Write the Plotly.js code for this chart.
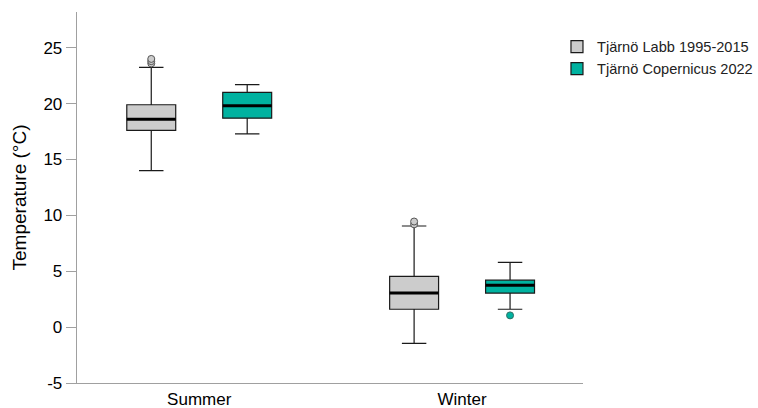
<!DOCTYPE html>
<html>
<head>
<meta charset="utf-8">
<script src="https://cdn.plot.ly/plotly-3.0.1.min.js"></script>
<style>html,body{margin:0;padding:0;background:#fff;}#chart{width:758px;height:408px;}</style>
</head>
<body>
<div id="chart"></div>
<script>
const categories = ['Summer', 'Winter'];
const seriesNames = ['Tjärnö Labb 1995-2015', 'Tjärnö Copernicus 2022'];

const labbLower = [14.0, -1.45];
const labbQ1 = [17.6, 1.6];
const labbMedian = [18.6, 3.05];
const labbQ3 = [19.9, 4.55];
const labbUpper = [23.25, 9.05];
const labbOutliers = [[23.6, 23.8, 24.0], [9.2, 9.45]];

const copLower = [17.3, 1.6];
const copQ1 = [18.7, 3.05];
const copMedian = [19.8, 3.75];
const copQ3 = [21.0, 4.2];
const copUpper = [21.7, 5.8];
const copOutliers = [[null], [1.05]];

const yTicks = [-5, 0, 5, 10, 15, 20, 25];

function boxTrace(name, lower, q1, med, q3, upper, outl, fill, edge) {
  return {
    type: 'box', name: name, x: categories,
    lowerfence: lower, q1: q1, median: med, q3: q3, upperfence: upper,
    y: outl, boxpoints: 'outliers', jitter: 0, pointpos: 0,
    fillcolor: fill, whiskerwidth: 0.5,
    line: {color: '#1a1a1a', width: 1.2},
    marker: {color: fill, size: 7, line: {color: edge, width: 1}, outliercolor: fill},
    hoverinfo: 'skip'
  };
}

const data = [
  boxTrace(seriesNames[0], labbLower, labbQ1, labbMedian, labbQ3, labbUpper, labbOutliers, '#cccccc', '#555555'),
  boxTrace(seriesNames[1], copLower, copQ1, copMedian, copQ3, copUpper, copOutliers, '#00b2a0', '#2f6f66')
];

const font = 'Liberation Sans, Arial, sans-serif';
const layout = {
  width: 758, height: 408,
  margin: {l: 77, r: 175, t: 12, b: 25, autoexpand: false},
  paper_bgcolor: '#fff', plot_bgcolor: '#fff',
  boxmode: 'group', boxgap: 0.27, boxgroupgap: 0.49,
  showlegend: true,
  legend: {xref: 'container', yref: 'container', x: 0.7348, y: 0.925, xanchor: 'left', yanchor: 'top',
           font: {family: font, size: 14.6, color: '#222'},
           itemwidth: 30, tracegroupgap: 0, bgcolor: 'rgba(0,0,0,0)'},
  font: {family: font, color: '#000'},
  xaxis: {type: 'category', range: [-0.465, 1.46], showgrid: false, zeroline: false,
          showline: true, linecolor: '#a0a0a0', linewidth: 1.3, ticks: '',
          tickfont: {family: font, size: 17, color: '#000'}, fixedrange: true},
  yaxis: {range: [-5, 28.2], tickvals: yTicks, ticktext: yTicks.map(String), showgrid: false, zeroline: false,
          showline: true, linecolor: '#a0a0a0', linewidth: 1.3, ticks: 'outside', ticklen: 10,
          tickcolor: '#a0a0a0', tickwidth: 1, tickfont: {family: font, size: 17, color: '#000'},
          title: {text: 'Temperature (°C)', font: {family: font, size: 19, color: '#000'}, standoff: 11},
          fixedrange: true}
};

const gd = document.getElementById('chart');
Plotly.newPlot(gd, data, layout, {displayModeBar: false, staticPlot: true}).then(function () {
  const shapes = [];
  gd.calcdata.forEach(function (cd) {
    const t = cd[0].t;
    cd.forEach(function (d) {
      if (d.med === undefined) return;
      shapes.push({type: 'line', xref: 'x', yref: 'y',
        x0: d.pos + t.bPos - t.bdPos, x1: d.pos + t.bPos + t.bdPos,
        y0: d.med, y1: d.med, line: {color: '#000', width: 3}});
    });
  });
  return Plotly.relayout(gd, {shapes: shapes});
}).catch(function (e) { document.body.insertAdjacentHTML('beforeend', '<pre>' + e + '</pre>'); });
</script>
</body>
</html>
